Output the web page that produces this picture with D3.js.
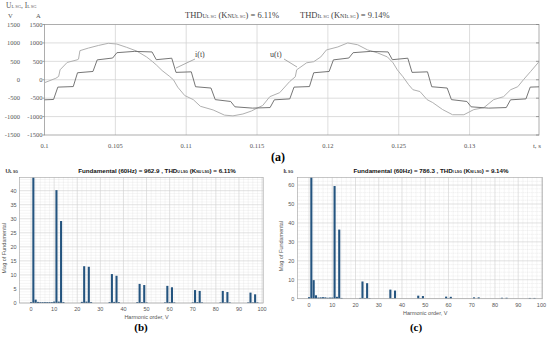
<!DOCTYPE html>
<html>
<head>
<meta charset="utf-8">
<script src="https://cdn.jsdelivr.net/npm/d3@7"></script>
<style>
  body { margin: 0; background: #fff; }
  svg { display: block; }
</style>
</head>
<body>
<div id="container"></div>
<script>
// waveform vertices: [time s, value]
const uPoints = [[0.1000,-80],[0.1008,40],[0.1010,90],[0.1011,270],[0.1016,470],[0.1023,540],[0.1024,560],[0.1025,790],[0.1031,860],[0.1038,930],[0.1045,990],[0.1051,970],[0.1058,880],[0.1065,780],[0.1072,620],[0.1076,500],[0.1079,400],[0.1083,250],[0.1088,100],[0.1091,0],[0.1094,-200],[0.1099,-430],[0.1105,-540],[0.1110,-720],[0.1119,-820],[0.1127,-960],[0.1133,-980],[0.1140,-930],[0.1146,-850],[0.1150,-770],[0.1154,-700],[0.1159,-460],[0.1166,-350],[0.1173,-50],[0.1177,80],[0.1178,270],[0.1185,460],[0.1190,490],[0.1195,620],[0.1199,810],[0.1207,890],[0.1214,1000],[0.1221,950],[0.1228,810],[0.1235,730],[0.1242,620],[0.1246,460],[0.1249,270],[0.1253,80],[0.1257,-135],[0.1260,-270],[0.1265,-320],[0.1270,-540],[0.1274,-620],[0.1281,-810],[0.1288,-950],[0.1296,-950],[0.1303,-810],[0.1310,-760],[0.1317,-540],[0.1324,-460],[0.1329,-270],[0.1334,-190],[0.1338,0],[0.1343,220],[0.1349,490]];
const iPoints = [[0.1000,-545],[0.10064,-535],[0.10094,-200],[0.10203,-185],[0.10233,190],[0.10342,225],[0.10372,540],[0.10481,590],[0.10511,735],[0.10635,770],[0.10759,755],[0.10789,545],[0.10898,585],[0.10928,200],[0.11036,215],[0.11066,-190],[0.11175,-225],[0.11205,-540],[0.11314,-590],[0.11344,-735],[0.11468,-770],[0.11592,-755],[0.11622,-545],[0.11731,-520],[0.11761,-200],[0.11870,-185],[0.11900,190],[0.12009,225],[0.12039,540],[0.12148,590],[0.12178,735],[0.12302,770],[0.12425,755],[0.12455,545],[0.12564,585],[0.12594,200],[0.12703,215],[0.12733,-190],[0.12842,-225],[0.12872,-540],[0.12981,-590],[0.13011,-735],[0.13135,-770],[0.13259,-755],[0.13289,-545],[0.13398,-520],[0.13428,-200],[0.1349,-192]];
const timeTicks = [0.1, 0.105, 0.11, 0.115, 0.12, 0.125, 0.13];
const timeTickLabels = ["0.1", "0.105", "0.11", "0.115", "0.12", "0.125", "0.13"];
const ampTicks = [-1500, -1000, -500, 0, 500, 1000, 1500];

// harmonic spectra, % of fundamental
const uOrders = [0,1,2,3,4,5,6,7,8,9,10,11,12,13,14,22,23,24,25,26,34,35,36,37,38,46,47,48,49,50,58,59,60,61,62,70,71,72,73,74,82,83,84,85,86,94,95,96,97,98];
const uMags   = [0.3,100,1.2,0.4,0.3,0.3,0.3,0.3,0.3,0.3,0.5,40.2,0.5,29.2,0.3,0.4,13.1,0.5,12.9,0.3,0.3,10.3,0.4,9.7,0.3,0.3,6.8,0.3,6.4,0.2,0.2,6.1,0.3,5.6,0.2,0.2,4.6,0.3,4.3,0.2,0.2,4.3,0.2,3.9,0.2,0.2,3.7,0.2,3.1,0.2];
const iOrders = [0,1,2,3,4,5,6,7,8,9,10,11,12,13,14,22,23,24,25,26,35,36,37,47,48,49,59,60,61,71,73,83,85,95,97];
const iMags   = [0.8,100,9.8,1.8,0.6,0.7,0.8,0.7,0.5,0.6,0.6,59.5,1.0,36.5,0.4,0.4,9.1,0.4,8.2,0.3,4.8,0.3,4.3,1.6,0.3,1.4,1.1,0.3,1.0,0.7,0.7,0.5,0.5,0.4,0.4];
const harmTicks = [0,10,20,30,40,50,60,70,80,90,100];
const uMagTicks = [0,5,10,15,20,25,30,35,40];
const iMagTicks = [0,10,20,30,40,50,60];

const width = 550, height = 342;
const svg = d3.select("#container").append("svg")
  .attr("width", width).attr("height", height);
svg.append("rect").attr("width", width).attr("height", height).attr("fill", "#fff");

const serif = "'Liberation Serif', 'DejaVu Serif', serif";
const sans = "'Liberation Sans', Arial, sans-serif";

// ---------- (a) time waveforms ----------
const ax = { left: 44.5, right: 539, top: 24.5, bottom: 135 };
const xTime = d3.scaleLinear().domain([0.1, 0.1349]).range([ax.left, ax.right]);
const yAmp = d3.scaleLinear().domain([-1500, 1500]).range([ax.bottom, ax.top]);

const gA = svg.append("g");
gA.selectAll(".vgrid").data(timeTicks.slice(1)).join("line")
  .attr("x1", d => xTime(d)).attr("x2", d => xTime(d))
  .attr("y1", ax.top).attr("y2", ax.bottom)
  .attr("stroke", "#d4d4d4").attr("stroke-width", 0.8);
gA.selectAll(".hgrid").data(ampTicks.slice(1, -1)).join("line")
  .attr("x1", ax.left).attr("x2", ax.right)
  .attr("y1", d => yAmp(d)).attr("y2", d => yAmp(d))
  .attr("stroke", "#d4d4d4").attr("stroke-width", 0.8);
gA.append("rect").attr("x", ax.left).attr("y", ax.top)
  .attr("width", ax.right - ax.left).attr("height", ax.bottom - ax.top)
  .attr("fill", "none").attr("stroke", "#9a9a9a").attr("stroke-width", 0.8);
// tick marks left and right
gA.selectAll(".ltick").data(ampTicks).join("line")
  .attr("x1", ax.left - 2).attr("x2", ax.left)
  .attr("y1", d => yAmp(d)).attr("y2", d => yAmp(d)).attr("stroke", "#888").attr("stroke-width", 0.8);
gA.selectAll(".rtick").data(ampTicks).join("line")
  .attr("x1", ax.right - 3).attr("x2", ax.right)
  .attr("y1", d => yAmp(d)).attr("y2", d => yAmp(d)).attr("stroke", "#888").attr("stroke-width", 0.8);

// y labels: V column and A column
gA.selectAll(".vlab").data(ampTicks).join("text")
  .attr("x", 20).attr("y", d => yAmp(d) + 2.2)
  .attr("text-anchor", "end").attr("font-family", serif).attr("font-size", 6.5).attr("fill", "#555")
  .text(d => d);
gA.selectAll(".alab").data(ampTicks).join("text")
  .attr("x", 42.5).attr("y", d => yAmp(d) + 2.2)
  .attr("text-anchor", "end").attr("font-family", serif).attr("font-size", 6.5).attr("fill", "#555")
  .text(d => d);
gA.selectAll(".tlab").data(timeTicks).join("text")
  .attr("x", d => xTime(d)).attr("y", 148)
  .attr("text-anchor", "middle").attr("font-family", serif).attr("font-size", 6.5).attr("fill", "#555")
  .text((d, i) => timeTickLabels[i]);
gA.append("text").attr("x", 537).attr("y", 148).attr("text-anchor", "middle")
  .attr("font-family", serif).attr("font-size", 7).attr("fill", "#555").text("t, s");

// header: U_LSG, I_LSG ; V A
const hdr = gA.append("text").attr("x", 6).attr("y", 8).attr("font-family", serif).attr("font-size", 7.5).attr("fill", "#555");
hdr.append("tspan").text("U");
hdr.append("tspan").attr("font-size", 4.5).text("L SG");
hdr.append("tspan").text(", I");
hdr.append("tspan").attr("font-size", 4.5).text("L SG");
gA.append("text").attr("x", 8).attr("y", 18).attr("font-family", serif).attr("font-size", 6.5).attr("fill", "#555").text("V");
gA.append("text").attr("x", 36).attr("y", 18).attr("font-family", serif).attr("font-size", 6.5).attr("fill", "#555").text("A");

function thdText(g, x, sub, val) {
  const t = g.append("text").attr("x", x).attr("y", 18).attr("font-family", serif).attr("font-size", 8.5).attr("fill", "#444");
  t.append("tspan").text("THD");
  t.append("tspan").attr("font-size", 6).text(sub);
  t.append("tspan").attr("font-size", 4.5).text("L SG");
  t.append("tspan").text(" (K");
  t.append("tspan").attr("font-size", 6).text("N" + sub);
  t.append("tspan").attr("font-size", 4.5).text("L SG");
  t.append("tspan").text(") = " + val);
}
thdText(gA, 185, "U", "6.11%");
thdText(gA, 300, "I", "9.14%");

const line = d3.line().x(d => xTime(d[0])).y(d => yAmp(d[1]));
gA.append("path").datum(uPoints).attr("d", line)
  .attr("fill", "none").attr("stroke", "#b0b0b0").attr("stroke-width", 1);
gA.append("path").datum(iPoints).attr("d", line)
  .attr("fill", "none").attr("stroke", "#666").attr("stroke-width", 0.9);

// curve labels with leaders
gA.append("text").attr("x", 195).attr("y", 57).attr("font-family", serif).attr("font-size", 8).attr("fill", "#444").text("i(t)");
gA.append("line").attr("x1", 195).attr("y1", 59).attr("x2", 176).attr("y2", 68).attr("stroke", "#888").attr("stroke-width", 0.7);
gA.append("text").attr("x", 270).attr("y", 57).attr("font-family", serif).attr("font-size", 8).attr("fill", "#444").text("u(t)");
gA.append("line").attr("x1", 284).attr("y1", 59).attr("x2", 297).attr("y2", 67).attr("stroke", "#888").attr("stroke-width", 0.7);

svg.append("text").attr("x", 278).attr("y", 161).attr("text-anchor", "middle")
  .attr("font-family", serif).attr("font-weight", "bold").attr("font-size", 12).attr("fill", "#000").text("(a)");

// ---------- spectra ----------
function spectrum(cfg) {
  const g = svg.append("g");
  const x = d3.scaleLinear().domain([-5, 100.5]).range([cfg.left, cfg.right]);
  const y = d3.scaleLinear().domain([0, cfg.yMax]).range([cfg.bottom, cfg.top]);
  const clipId = "clip" + cfg.id;
  g.append("clipPath").attr("id", clipId).append("rect")
    .attr("x", cfg.left).attr("y", cfg.top).attr("width", cfg.right - cfg.left).attr("height", cfg.bottom - cfg.top);

  // minor grid
  const xMinor = d3.range(0, 101, 2).filter(d => d % 10 !== 0);
  g.selectAll(".xm").data(xMinor).join("line")
    .attr("x1", d => x(d)).attr("x2", d => x(d)).attr("y1", cfg.top).attr("y2", cfg.bottom)
    .attr("stroke", "#d9d9d9").attr("stroke-width", 0.5).attr("stroke-dasharray", "1,1");
  const yMinor = d3.range(0, cfg.yMax, cfg.yMinorStep).filter(d => Math.abs(d / cfg.yStep - Math.round(d / cfg.yStep)) > 1e-6);
  g.selectAll(".ym").data(yMinor).join("line")
    .attr("x1", cfg.left).attr("x2", cfg.right).attr("y1", d => y(d)).attr("y2", d => y(d))
    .attr("stroke", "#d9d9d9").attr("stroke-width", 0.5).attr("stroke-dasharray", "1,1");
  // major grid
  g.selectAll(".xg").data(harmTicks).join("line")
    .attr("x1", d => x(d)).attr("x2", d => x(d)).attr("y1", cfg.top).attr("y2", cfg.bottom)
    .attr("stroke", "#cfcfcf").attr("stroke-width", 0.6);
  g.selectAll(".yg").data(cfg.yTicks).join("line")
    .attr("x1", cfg.left).attr("x2", cfg.right).attr("y1", d => y(d)).attr("y2", d => y(d))
    .attr("stroke", "#cfcfcf").attr("stroke-width", 0.6);

  g.append("g").attr("clip-path", "url(#" + clipId + ")")
    .selectAll("rect").data(cfg.orders).join("rect")
    .attr("x", d => x(d - 0.45)).attr("width", x(0.9) - x(0))
    .attr("y", (d, i) => y(cfg.mags[i])).attr("height", (d, i) => cfg.bottom - y(cfg.mags[i]))
    .attr("fill", "#24547f");

  g.append("rect").attr("x", cfg.left).attr("y", cfg.top)
    .attr("width", cfg.right - cfg.left).attr("height", cfg.bottom - cfg.top)
    .attr("fill", "none").attr("stroke", "#a0a0a0").attr("stroke-width", 0.6);

  g.selectAll(".xl").data(harmTicks).join("text")
    .attr("x", d => x(d)).attr("y", cfg.bottom + 8)
    .attr("text-anchor", "middle").attr("font-family", sans).attr("font-size", 5.5).attr("fill", "#555")
    .text(d => d);
  g.selectAll(".yl").data(cfg.yTicks).join("text")
    .attr("x", cfg.left - 3).attr("y", d => y(d) + 2)
    .attr("text-anchor", "end").attr("font-family", sans).attr("font-size", 5.5).attr("fill", "#555")
    .text(d => d);
  g.append("text").attr("x", (x(0) + x(100)) / 2).attr("y", cfg.bottom + 16)
    .attr("text-anchor", "middle").attr("font-family", sans).attr("font-size", 5.5).attr("fill", "#555")
    .text("Harmonic order, V");
  g.append("text").attr("transform", "translate(" + (cfg.left - 14) + "," + ((cfg.top + cfg.bottom) / 2 + 8) + ") rotate(-90)")
    .attr("text-anchor", "middle").attr("font-family", sans).attr("font-size", 5.5).attr("fill", "#555")
    .text("Mag of Fundamental");

  const yl = g.append("text").attr("x", cfg.left - 14).attr("y", cfg.top - 5)
    .attr("font-family", sans).attr("font-weight", "bold").attr("font-size", 6).attr("fill", "#333");
  yl.append("tspan").text(cfg.sym);
  yl.append("tspan").attr("font-size", 3.5).text("L SG");

  const tt = g.append("text").attr("x", cfg.titleX).attr("y", cfg.top - 5)
    .attr("text-anchor", "middle").attr("font-family", sans).attr("font-weight", "bold").attr("font-size", 6.2).attr("fill", "#111");
  tt.append("tspan").text("Fundamental (60Hz) = " + cfg.fund + " , THD");
  tt.append("tspan").attr("font-size", 3.5).text(cfg.sym + " LSG");
  tt.append("tspan").text(" (K");
  tt.append("tspan").attr("font-size", 3.5).text("N" + cfg.sym + " LSG");
  tt.append("tspan").text(") = " + cfg.thd);

  svg.append("text").attr("x", cfg.labelX).attr("y", 331).attr("text-anchor", "middle")
    .attr("font-family", serif).attr("font-weight", "bold").attr("font-size", 11).attr("fill", "#000").text(cfg.label);
}

spectrum({ id: "b", left: 19.5, right: 263.2, top: 177.5, bottom: 303, yMax: 44.7, yStep: 5, yMinorStep: 1,
  yTicks: uMagTicks, orders: uOrders, mags: uMags, sym: "U", fund: "962.9", thd: "6.11%", label: "(b)", labelX: 141, titleX: 157 });
spectrum({ id: "c", left: 297.4, right: 542.6, top: 177.5, bottom: 298.7, yMax: 64, yStep: 10, yMinorStep: 2,
  yTicks: iMagTicks, orders: iOrders, mags: iMags, sym: "I", fund: "786.3", thd: "9.14%", label: "(c)", labelX: 416, titleX: 431 });
</script>
</body>
</html>
